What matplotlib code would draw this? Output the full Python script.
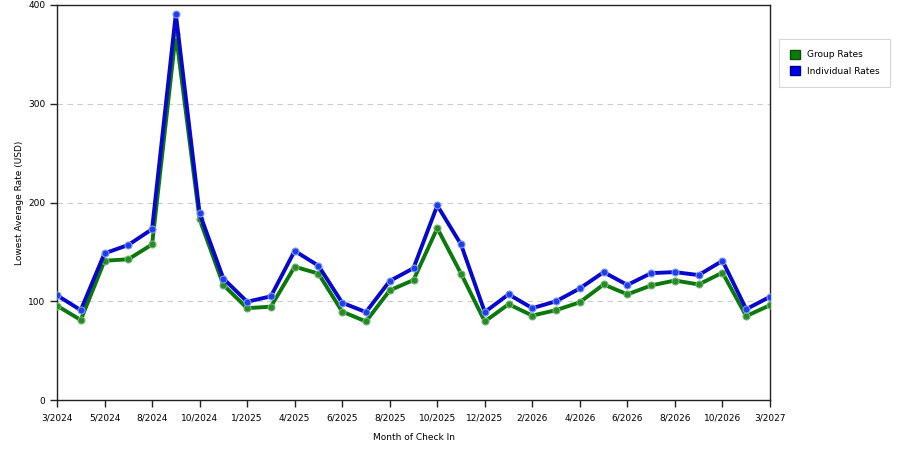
import numpy as np
import matplotlib
matplotlib.use('Agg')
from matplotlib import pyplot as plt
from matplotlib.patches import Patch

# months shown on the category axis (only every other label is printed)
months = ['3/2024', '4/2024', '5/2024', '6/2024', '8/2024', '9/2024', '10/2024', '11/2024',
          '1/2025', '3/2025', '4/2025', '5/2025', '6/2025', '7/2025', '8/2025', '9/2025',
          '10/2025', '11/2025', '12/2025', '1/2026', '2/2026', '3/2026', '4/2026', '5/2026',
          '6/2026', '7/2026', '8/2026', '9/2026', '10/2026', '11/2026', '3/2027']
group_rates = [95.5, 81, 141, 142.5, 157.5, 371, 183, 116.5, 93, 94.5, 135, 128,
               89.5, 79.5, 111, 121.5, 174, 128, 79.5, 97, 85.5, 91, 99, 117,
               107, 116, 121, 117, 129, 85, 96]
indiv_rates = [106, 91, 148.5, 157, 173, 391, 189, 123, 99.5, 105, 151, 136,
               98.5, 89, 120.5, 133.5, 197, 157.5, 89, 107, 93, 100, 113, 129.5,
               116.5, 128.5, 129.5, 126.5, 141, 92, 104.5]
yticks = [0, 100, 200, 300, 400]

plt.rcParams['font.family'] = 'DejaVu Sans'
fig = plt.figure(figsize=(9, 4.5), dpi=100)
ax = fig.add_axes([57/900, 1-400/450, (770-57)/900, (400-5)/450])

x = np.arange(len(months))
ax.plot(x, group_rates, '-o', color='#0b780b', lw=2.8, ms=5,
        mfc='#2a8a2a', mec='#6fb86f', mew=0.8, zorder=3)
ax.plot(x, indiv_rates, '-o', color='#0808cc', lw=2.8, ms=5,
        mfc='#1f3fe6', mec='#7f98ff', mew=0.8, zorder=4)

ax.set_xlim(0, len(months)-1)
ax.set_ylim(0, 400)
ax.set_yticks(yticks)
ax.set_xticks(x[::2])
ax.set_xticklabels(months[::2])
for yv in [100, 200, 300]:
    ax.axhline(yv, color='#cccccc', lw=0.8, ls=(0, (5, 4)), zorder=1)
ax.tick_params(axis='both', labelsize=6.5, length=5, width=1, color='#222222')
ax.tick_params(axis='x', pad=5)
for s in ax.spines.values():
    s.set_color('#222222')
    s.set_linewidth(1)

ax.set_xlabel('Month of Check In', fontsize=6.5, labelpad=7)
ax.set_ylabel('Lowest Average Rate (USD)', fontsize=6.5, labelpad=3)

handles = [Patch(facecolor='#0a7d0a', edgecolor='#0a4a0a', label='Group Rates'),
           Patch(facecolor='#0000ee', edgecolor='#00007a', label='Individual Rates')]
leg = fig.legend(handles=handles, loc='upper left', bbox_to_anchor=(779/900, 1-39/450),
                 borderaxespad=0, fontsize=6.5, frameon=True, fancybox=False,
                 handlelength=1.1, handleheight=1.1, borderpad=1.2, labelspacing=0.8,
                 handletextpad=0.8)
leg.get_frame().set_edgecolor('#cccccc')
leg.get_frame().set_linewidth(0.8)

plt.savefig('out.png', dpi=100)
